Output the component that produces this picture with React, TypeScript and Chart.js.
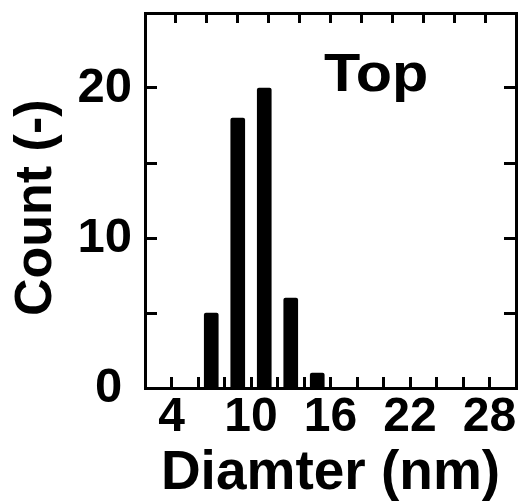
import React, { useEffect, useRef } from "react";
import { Chart, registerables } from "chart.js";

Chart.register(...registerables);

const diameters = [7, 9, 11, 13, 15];
const counts = [5, 18, 20, 6, 1];
const xTickLabels = [4, 10, 16, 22, 28];
const yTickLabels = [0, 10, 20];
const panelLabel = "Top";
const xTitle = "Diamter (nm)";
const yTitle = "Count (-) ";

const FONT = "'Liberation Sans', Arial, Helvetica, sans-serif";

const labelPlugin = {
  id: "panelLabel",
  afterDraw(chart: any) {
    const { ctx, scales } = chart;
    const px = scales.x.getPixelForValue(15.5);
    const py = scales.y.getPixelForValue(19.8);
    ctx.save();
    ctx.translate(px, py);
    ctx.scale(1.12, 1);
    ctx.font = `bold 53px ${FONT}`;
    ctx.fillStyle = "#000";
    ctx.textAlign = "left";
    ctx.textBaseline = "alphabetic";
    ctx.fillText(panelLabel, 0, 0);
    ctx.restore();
  },
};

const fix = (prop: "width" | "height", size: number) => (s: any) => {
  s[prop] = size;
  s.paddingTop = 0;
  s.paddingBottom = 0;
  s.paddingLeft = 0;
  s.paddingRight = 0;
};

export default function App() {
  const ref = useRef<HTMLCanvasElement | null>(null);
  useEffect(() => {
    if (!ref.current) return;
    const border = { display: true, width: 3, color: "#000" };
    const grid = (len: number) => ({
      drawOnChartArea: false,
      drawTicks: true,
      tickLength: -len,
      tickWidth: 3,
      tickColor: "#000",
      offset: false,
    });
    const chart = new Chart(ref.current, {
      type: "bar",
      data: {
        datasets: [
          {
            data: diameters.map((d, i) => ({ x: d, y: counts[i] })),
            backgroundColor: "#000",
            borderWidth: 0,
            barThickness: 14,
            borderRadius: 2,
            borderSkipped: "bottom",
          } as any,
        ],
      },
      options: {
        animation: false,
        responsive: true,
        maintainAspectRatio: false,
        layout: { padding: 0 },
        plugins: { legend: { display: false }, tooltip: { enabled: false } },
        scales: {
          x: {
            type: "linear",
            position: "bottom",
            min: 2,
            max: 30,
            offset: false,
            border,
            grid: grid(11),
            ticks: {
              stepSize: 2,
              autoSkip: false,
              maxRotation: 0,
              padding: 12,
              color: "#000",
              font: { family: FONT, size: 48, weight: "bold" },
              callback: (v: any) => (xTickLabels.includes(Number(v)) ? String(v) : ""),
            },
            title: {
              display: true,
              text: xTitle,
              color: "#000",
              padding: 0,
              font: { family: FONT, size: 55, weight: "bold", lineHeight: 1 },
            },
            afterFit: fix("height", 113),
          },
          x2: {
            type: "linear",
            position: "top",
            min: 0,
            max: 12,
            offset: false,
            border,
            grid: grid(10),
            ticks: { stepSize: 1, display: false, autoSkip: false },
            afterFit: fix("height", 13),
          },
          y: {
            type: "linear",
            position: "left",
            min: 0,
            max: 25,
            border,
            grid: grid(12),
            ticks: {
              stepSize: 5,
              autoSkip: false,
              padding: 25,
              color: "#000",
              font: { family: FONT, size: 49, weight: "bold" },
              callback: (v: any) =>
                yTickLabels.includes(Number(v)) ? (Number(v) === 0 ? "0\u2009" : String(v)) : "",
            },
            title: {
              display: true,
              text: yTitle,
              color: "#000",
              padding: { top: 11, bottom: 0 },
              font: { family: FONT, size: 52, weight: "bold", lineHeight: 1 },
            },
            afterFit: fix("width", 145),
          },
          y2: {
            type: "linear",
            position: "right",
            min: 0,
            max: 25,
            border,
            grid: grid(12),
            ticks: { stepSize: 5, display: false, autoSkip: false },
            afterFit: fix("width", 7),
          },
        },
      } as any,
      plugins: [labelPlugin],
    });
    return () => chart.destroy();
  }, []);
  return (
    <div style={{ position: "absolute", left: 0, top: 0, width: 523, height: 501, background: "#fff" }}>
      <canvas ref={ref} />
    </div>
  );
}
